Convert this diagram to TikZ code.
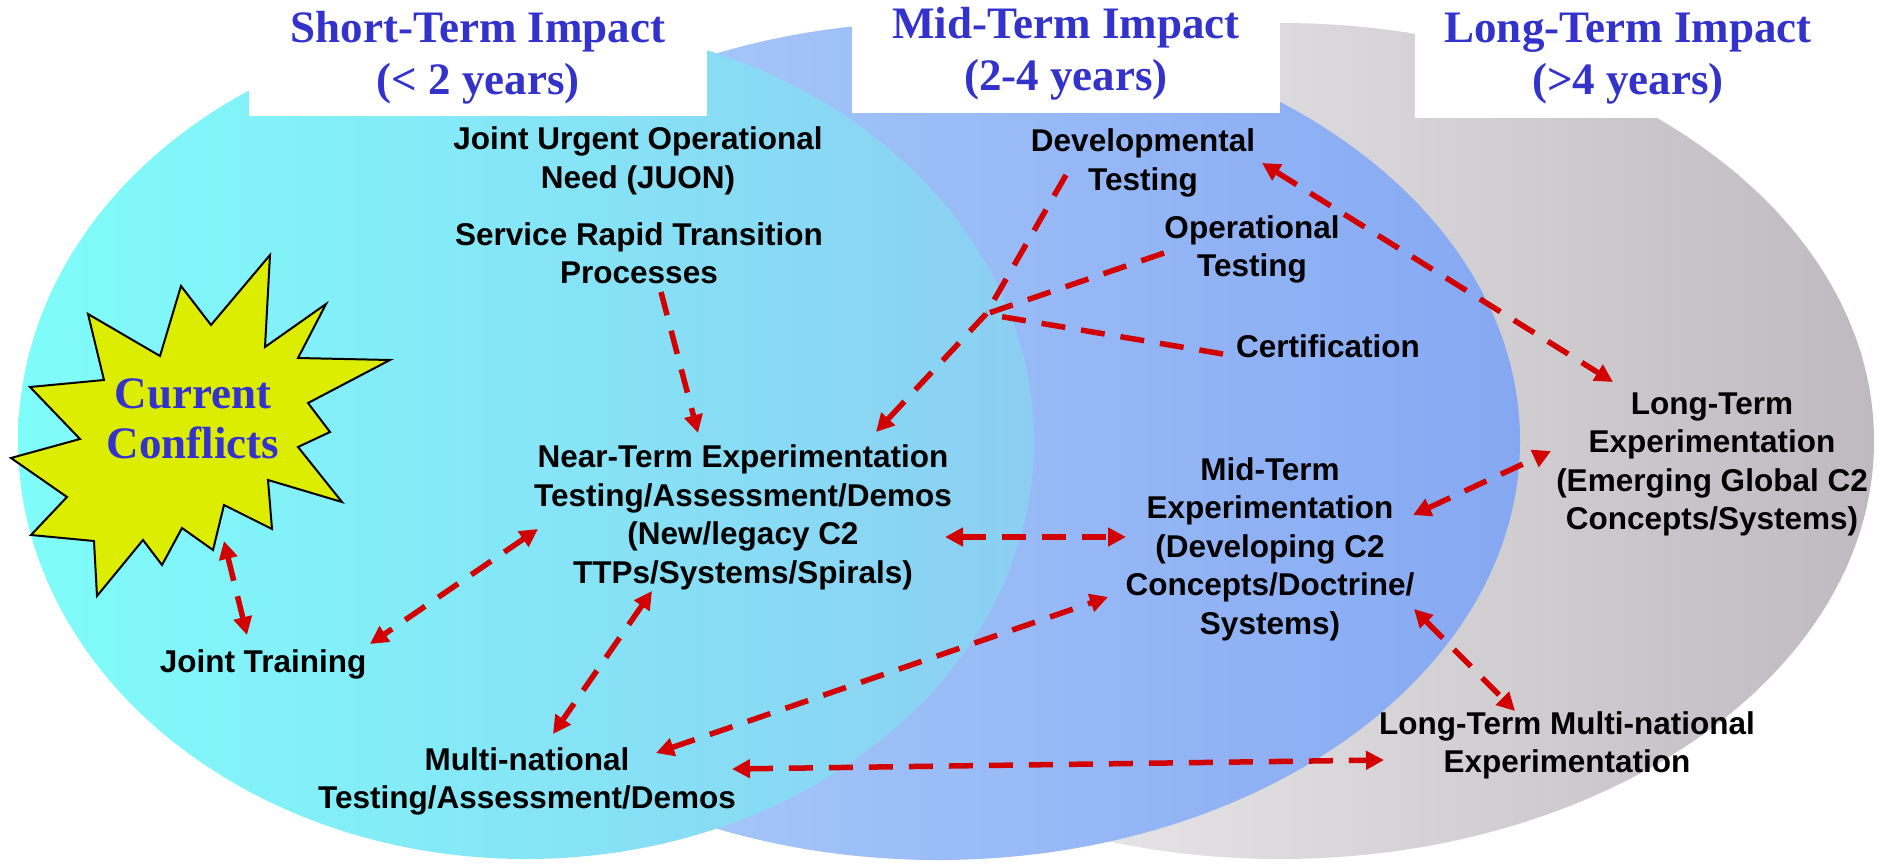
\documentclass[tikz,border=0pt]{standalone}
\usepackage{fontspec}
\setmainfont{Liberation Serif}
\newfontfamily\bodyfont{Liberation Sans}
\usetikzlibrary{arrows.meta}
\definecolor{titleblue}{RGB}{51,51,204}
\definecolor{arrowred}{RGB}{210,0,0}
\definecolor{starfill}{RGB}{221,237,0}
\definecolor{cyanL}{RGB}{127,253,250}
\definecolor{cyanR}{RGB}{140,206,242}
\definecolor{blueL}{RGB}{176,210,252}
\definecolor{blueR}{RGB}{134,168,242}
\definecolor{grayL}{RGB}{250,250,250}
\definecolor{grayR}{RGB}{190,186,192}
\tikzset{
  lbl/.style={font=\bodyfont\bfseries\fontsize{31.5pt}{38.5pt}\selectfont, align=center, inner sep=0pt},
  ttl/.style={font=\bfseries\fontsize{45pt}{52pt}\selectfont, text=titleblue, align=center, inner sep=0pt},
  link/.style={draw=arrowred, line width=5.5pt, dash pattern=on 24pt off 16pt},
  tipR/.style={Triangle[length=18pt,width=18pt]},
  both/.style={link, {Triangle[length=18pt,width=18pt]}-{Triangle[length=18pt,width=18pt]}},
  one/.style={link, -{Triangle[length=18pt,width=18pt]}},
  whitebox/.style={fill=white, draw=none},
}
\begin{document}
\begin{tikzpicture}[x=1pt,y=-1pt]
\useasboundingbox (0,0) rectangle (1886,864);
\fill[white] (0,0) rectangle (1886,864);
% ellipses
\shade[left color=grayL, right color=grayR] (1280,441) ellipse [x radius=594pt, y radius=418pt];
\shade[left color=blueL, right color=blueR] (938,441) ellipse [x radius=582pt, y radius=419pt];
\shade[left color=cyanL, right color=cyanR] (526,441) ellipse [x radius=508pt, y radius=418pt];
% title boxes
\path[whitebox] (249,0) rectangle (707,116);
\path[whitebox] (852,0) rectangle (1280,113);
\path[whitebox] (1415,0) rectangle (1658,118);
% titles
\node[ttl] (st) at (478,57.5) {Short-Term Impact\\(< 2 years)};
\node[ttl] (mt) at (1066,54) {Mid-Term Impact\\(2-4 years)};
\node[ttl] (lt) at (1628,59) {Long-Term Impact\\(>4 years)};
% starburst
\draw[fill=starfill, draw=black, line width=2pt, line join=miter]
  (11,458) -- (80,439) -- (30,387) -- (104,380) -- (88,314) -- (160,356) -- (181,286)
  -- (211,325) -- (270,255) -- (265,347) -- (326,304) -- (298,358) -- (390,360)
  -- (308,403) -- (330,432) -- (298,447) -- (342,502) -- (268,480) -- (272,529)
  -- (224,505) -- (213,550) -- (182,528) -- (162,565) -- (143,540) -- (97,596)
  -- (94,541) -- (31,535) -- (67,497) -- cycle;
\node[ttl, font=\bfseries\fontsize{45pt}{50pt}\selectfont] (cc) at (193,419) {Current\\Conflicts};
% labels
\node[lbl] (juon) at (638,161) {Joint Urgent Operational\\Need (JUON)};
\node[lbl] (srt) at (639,253) {Service Rapid Transition\\Processes};
\node[lbl] (near) at (743,517.5) {Near-Term Experimentation\\Testing/Assessment/Demos\\(New/legacy C2\\TTPs/Systems/Spirals)};
\node[lbl, anchor=base] (jt) at (263,672) {Joint Training};
\node[lbl] (mn) at (527,781.5) {Multi-national\\Testing/Assessment/Demos};
\node[lbl] (mid) at (1270,549) {Mid-Term\\Experimentation\\(Developing C2\\Concepts/Doctrine/\\Systems)};
\node[lbl] (ltmn) at (1567,745.5) {Long-Term Multi-national\\Experimentation};
\node[lbl] (dev) at (1143,163) {Developmental\\Testing};
\node[lbl] (op) at (1252,249.5) {Operational\\Testing};
\node[lbl, anchor=base] (cert) at (1328,357) {Certification};
\node[lbl] (lte) at (1712,464.5) {Long-Term\\Experimentation\\(Emerging Global C2\\Concepts/Systems)};
% connector end points
\coordinate (srtA) at (661,292);   \coordinate (nearN) at (698,433);
\coordinate (devA) at (1066,175);  \coordinate (opA) at (1164,253);
\coordinate (certA) at (1223,354); \coordinate (junc) at (986,314);
\coordinate (nearNE) at (876,432);
\coordinate (devB) at (1262,163);  \coordinate (lteA) at (1613,382);
\coordinate (nearE) at (945,537);  \coordinate (midW) at (1126,537);
\coordinate (midE) at (1413,515);  \coordinate (lteW) at (1551,451);
\coordinate (midSE) at (1414,609); \coordinate (ltmnN) at (1515,711);
\coordinate (mnE) at (732,769);    \coordinate (ltmnW) at (1384,760);
\coordinate (mnNE) at (656,753);   \coordinate (midSW) at (1108,597);
\coordinate (nearS) at (652,591);  \coordinate (mnN) at (553,734);
\coordinate (nearW) at (538,529);  \coordinate (jtNE) at (370,644);
\coordinate (ccS) at (224,541);    \coordinate (jtN) at (247,635);
% connectors
\draw[one] (srtA) -- (nearN);
\draw[link] (opA) -- (junc);
\draw[link] (certA) -- (junc);
\draw[one] (devA) -- (junc) -- (nearNE);
\draw[both] (devB) -- (lteA);
\draw[both] (nearE) -- (midW);
\draw[both] (midE) -- (lteW);
\draw[both] (midSE) -- (ltmnN);
\draw[both] (mnE) -- (ltmnW);
\draw[both] (mnNE) -- (midSW);
\draw[both] (nearS) -- (mnN);
\draw[both] (nearW) -- (jtNE);
\draw[both] (ccS) -- (jtN);
\end{tikzpicture}
\end{document}
